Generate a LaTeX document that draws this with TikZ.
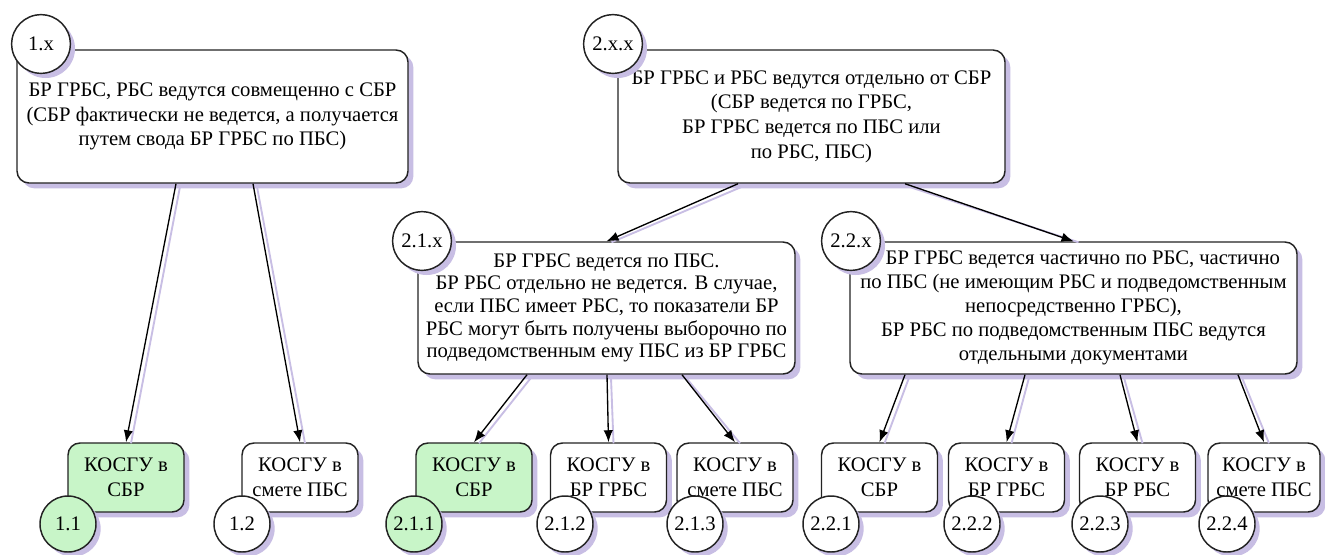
\documentclass[tikz,border=0pt]{standalone}
\usepackage{fontspec}
\setmainfont{Liberation Serif}
\usetikzlibrary{shadows,arrows.meta,calc}
\definecolor{shd}{RGB}{200,190,228}
\definecolor{grn}{RGB}{200,245,200}
\definecolor{edgec}{RGB}{35,35,35}
\begin{document}
\begin{tikzpicture}[x=0.75pt,y=-0.75pt,
  font=\rmfamily\fontsize{15.5}{18.5}\selectfont,
  box/.style={draw=edgec, line width=1.1pt, rounded corners=9pt, fill=white,
    align=center, inner sep=0pt,
    drop shadow={shadow xshift=4pt, shadow yshift=-4pt, fill=shd, opacity=1}},
  smallbox/.style={box, minimum width=87pt, minimum height=51.75pt},
  lbl/.style={circle, draw=edgec, line width=1.1pt, fill=white, inner sep=0pt,
    minimum size=44pt,
    drop shadow={shadow xshift=3.5pt, shadow yshift=-3.5pt, fill=shd, opacity=1}},
  slbl/.style={lbl, minimum size=42pt},
  arr/.style={-{Latex[length=9pt,width=7pt]}, line width=1pt, black},
  arrs/.style={line width=1.4pt, shd}
]
\useasboundingbox (0,0) rectangle (1325,554);
\fill[white] (0,0) rectangle (1325,554);

% big boxes
\node[box, minimum width=293.25pt, minimum height=99.75pt] (b1x) at (212.5,116.5)
  {БР ГРБС, РБС ведутся совмещенно с СБР\\(СБР фактически не ведется, а получается\\путем свода БР ГРБС по ПБС)};
\node[box, minimum width=290.25pt, minimum height=99.75pt] (b2xx) at (811.5,116.5)
  {БР ГРБС и РБС ведутся отдельно от СБР\\(СБР ведется по ГРБС,\\БР ГРБС ведется по ПБС или\\по РБС, ПБС)};
\node[box, minimum width=282.75pt, minimum height=99pt, font=\rmfamily\fontsize{15.5}{17}\selectfont] (b21x) at (606.5,308)
  {БР ГРБС ведется по ПБС.\\БР РБС отдельно не ведется. В случае,\\если ПБС имеет РБС, то показатели БР\\РБС могут быть получены выборочно по\\подведомственным ему ПБС из БР ГРБС};
\node[box, minimum width=335.25pt, minimum height=99pt, font=\rmfamily\fontsize{15.5}{18}\selectfont] (b22x) at (1073.5,308)
  {\hspace*{14pt}БР ГРБС ведется частично по РБС, частично\\по ПБС (не имеющим РБС и подведомственным\\непосредственно ГРБС),\\БР РБС по подведомственным ПБС ведутся\\отдельными документами};

% small boxes
\node[smallbox, fill=grn] (b11) at (126,477.5) {КОСГУ в\\СБР};
\node[smallbox] (b12) at (300,477.5) {КОСГУ в\\смете ПБС};
\node[smallbox, fill=grn] (b211) at (474,477.5) {КОСГУ в\\СБР};
\node[smallbox] (b212) at (608.5,477.5) {КОСГУ в\\БР ГРБС};
\node[smallbox] (b213) at (735,477.5) {КОСГУ в\\смете ПБС};
\node[smallbox] (b221) at (879.5,477.5) {КОСГУ в\\СБР};
\node[smallbox] (b222) at (1006.5,477.5) {КОСГУ в\\БР ГРБС};
\node[smallbox] (b223) at (1137.5,477.5) {КОСГУ в\\БР РБС};
\node[smallbox, minimum width=84pt] (b224) at (1264,477.5) {КОСГУ в\\смете ПБС};

% arrows (shadow first, then arrow)
\foreach \s/\dx/\t in {b1x/-36.5/b11, b1x/40.5/b12, b2xx/-73.5/b21x, b2xx/93.5/b22x,
  b21x/-79.5/b211, b21x/0.5/b212, b21x/75.5/b213,
  b22x/-168.5/b221, b22x/-48.5/b222, b22x/46.5/b223, b22x/164.5/b224}{
  \draw[arrs] ($(\s.south)+(\dx+4,3)$) -- ($(\t.north)+(5,1)$);
  \draw[arr] ($(\s.south)+(\dx,0)$) -- (\t.north);
}

% labels
\node[lbl] (c1x) at (41,44) {1.x};
\node[lbl] (c2xx) at (613,44) {2.x.x};
\node[lbl] (c21x) at (422,241) {2.1.x};
\node[lbl] (c22x) at (851,241) {2.2.x};
\node[slbl, fill=grn] (c11) at (68,524) {1.1};
\node[slbl] (c12) at (242,524) {1.2};
\node[slbl, fill=grn] (c211) at (414,524) {2.1.1};
\node[slbl] (c212) at (565,524) {2.1.2};
\node[slbl] (c213) at (695,524) {2.1.3};
\node[slbl] (c221) at (831,524) {2.2.1};
\node[slbl] (c222) at (972,524) {2.2.2};
\node[slbl] (c223) at (1100,524) {2.2.3};
\node[slbl] (c224) at (1227,524) {2.2.4};
\end{tikzpicture}
\end{document}
